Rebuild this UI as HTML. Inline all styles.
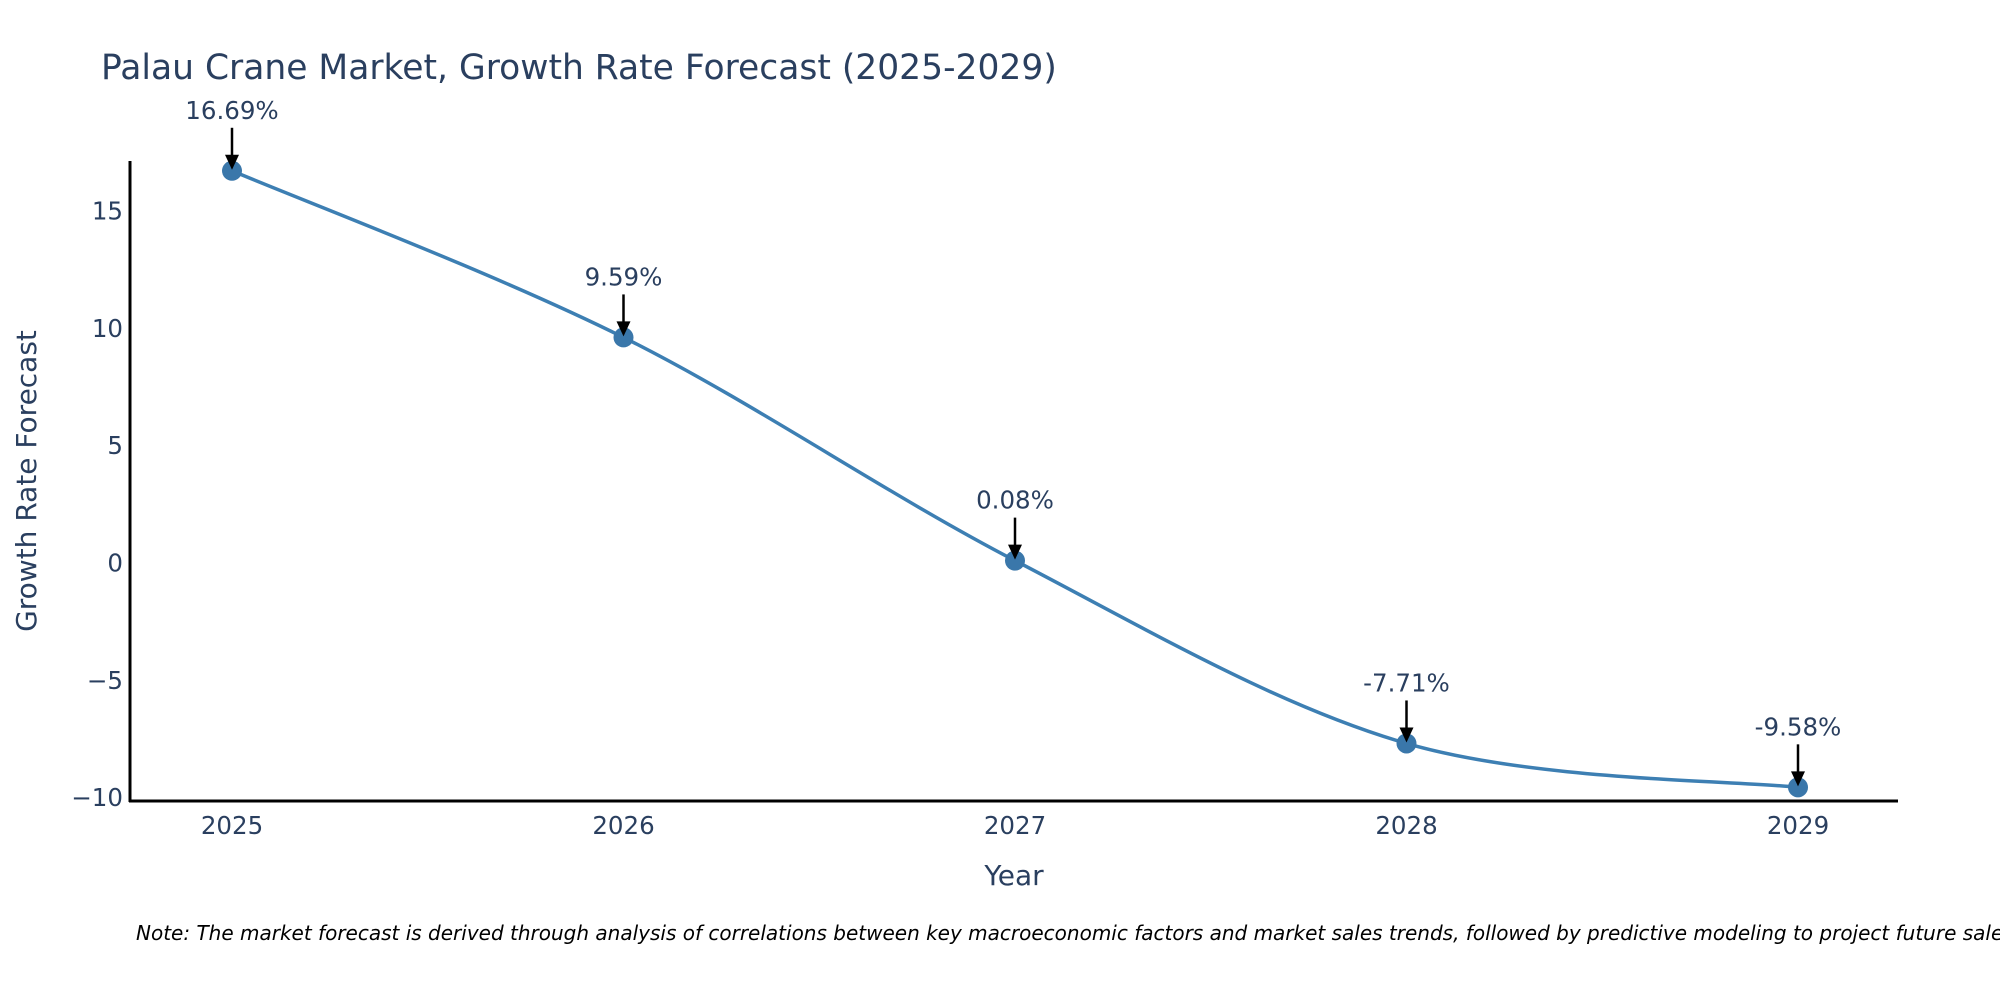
<!DOCTYPE html>
<html><head><meta charset="utf-8"><style>
html,body{margin:0;padding:0;background:#fff;width:2000px;height:1000px;overflow:hidden}
svg text{font-family:"DejaVu Sans","Liberation Sans",sans-serif}
</style></head><body>
<svg id="chart" width="2000" height="1000" xmlns="http://www.w3.org/2000/svg">
<text x="101" y="79" font-size="34.5" fill="#2a3f5f">Palau Crane Market, Growth Rate Forecast (2025-2029)</text>
<g id="yticks"></g>
<g id="xticks"></g>
<path id="line" fill="none" stroke="#3d7fb3" stroke-width="3.5"/>
<g id="points"></g>
<g id="annots"></g>
<line x1="130" y1="161" x2="130" y2="802" stroke="#000" stroke-width="3"/>
<line x1="129" y1="801" x2="1898" y2="801" stroke="#000" stroke-width="3"/>
<text x="1014" y="885" font-size="28" fill="#2a3f5f" text-anchor="middle">Year</text>
<text transform="translate(36,481) rotate(-90)" font-size="28" fill="#2a3f5f" text-anchor="middle">Growth Rate Forecast</text>
<text x="136" y="940" font-size="20" font-style="italic" fill="#000">Note: The market forecast is derived through analysis of correlations between key macroeconomic factors and market sales trends, followed by predictive modeling to project future sales.</text>
</svg>
<script>
const years = [2025, 2026, 2027, 2028, 2029];
const growth = [16.69, 9.59, 0.08, -7.71, -9.58];
const labels = ["16.69%", "9.59%", "0.08%", "-7.71%", "-9.58%"];
const yTicks = [15, 10, 5, 0, -5, -10];
const yTickLabels = ["15", "10", "5", "0", "\u22125", "\u221210"];
const NS = "http://www.w3.org/2000/svg";
const xs = i => 232 + (years[i] - years[0]) * 391.5;
const ys = v => 562.5 - v * 23.47;
function mk(tag, attrs, parent){const e=document.createElementNS(NS,tag);for(const k in attrs)e.setAttribute(k,attrs[k]);parent.appendChild(e);return e;}
const yt=document.getElementById('yticks');
yTicks.forEach((v,i)=>{const t=mk('text',{x:123,y:ys(v)+9,'font-size':24.5,fill:'#2a3f5f','text-anchor':'end'},yt);


t.textContent=yTickLabels[i];});
const xt=document.getElementById('xticks');
years.forEach((y,i)=>{const t=mk('text',{x:xs(i),y:834,'font-size':24.5,fill:'#2a3f5f','text-anchor':'middle'},xt);


t.textContent=y;});
const P=growth.map((v,i)=>[xs(i),ys(v)]);
let d=`M${P[0][0]},${P[0][1]}`;
for(let i=0;i<P.length-1;i++){const p0=P[Math.max(i-1,0)],p1=P[i],p2=P[i+1],p3=P[Math.min(i+2,P.length-1)];const k=1/6;
d+=` C${p1[0]+(p2[0]-p0[0])*k},${p1[1]+(p2[1]-p0[1])*k} ${p2[0]-(p3[0]-p1[0])*k},${p2[1]-(p3[1]-p1[1])*k} ${p2[0]},${p2[1]}`;}
document.getElementById('line').setAttribute('d',d);
const pts=document.getElementById('points'),an=document.getElementById('annots');
P.forEach((p,i)=>{const c=mk('circle',{cx:p[0],cy:p[1],r:10,fill:'#3a77aa'},pts);


const l=mk('line',{x1:p[0],y1:p[1]-43,x2:p[0],y2:p[1]-14,stroke:'#000','stroke-width':2.5},an);


const h=mk('polygon',{points:`${p[0]-7},${p[1]-16} ${p[0]+7},${p[1]-16} ${p[0]},${p[1]-1}`,fill:'#000'},an);


const t=mk('text',{x:p[0],y:p[1]-52,'font-size':24.5,fill:'#2a3f5f','text-anchor':'middle'},an);


t.textContent=labels[i];});
</script>
</body></html>
